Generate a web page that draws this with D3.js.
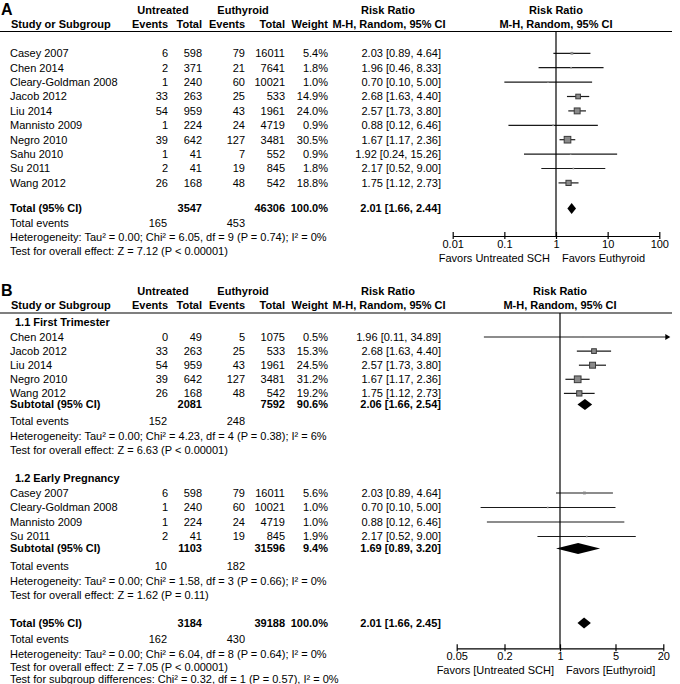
<!DOCTYPE html>
<html>
<head>
<meta charset="utf-8">
<script src="https://cdn.jsdelivr.net/npm/d3@7"></script>
<style>
  html, body { margin: 0; padding: 0; background: #fff; }
  svg { display: block; }
  text { font-family: "Liberation Sans", Arial, sans-serif; font-size: 11px; fill: #000; }
  .b { font-weight: bold; }
</style>
</head>
<body>
<div id="chart"></div>
<script>
// ---------- Panel A data ----------
const studiesA = ["Casey 2007", "Chen 2014", "Cleary-Goldman 2008", "Jacob 2012", "Liu 2014",
  "Mannisto 2009", "Negro 2010", "Sahu 2010", "Su 2011", "Wang 2012"];
const evUntreatedA = [6, 2, 1, 33, 54, 1, 39, 1, 2, 26];
const totUntreatedA = [598, 371, 240, 263, 959, 224, 642, 41, 41, 168];
const evEuthyroidA = [79, 21, 60, 25, 43, 24, 127, 7, 19, 48];
const totEuthyroidA = [16011, 7641, 10021, 533, 1961, 4719, 3481, 552, 845, 542];
const weightA = [5.4, 1.8, 1.0, 14.9, 24.0, 0.9, 30.5, 0.9, 1.8, 18.8];
const rrA = [2.03, 1.96, 0.70, 2.68, 2.57, 0.88, 1.67, 1.92, 2.17, 1.75];
const loA = [0.89, 0.46, 0.10, 1.63, 1.73, 0.12, 1.17, 0.24, 0.52, 1.12];
const hiA = [4.64, 8.33, 5.00, 4.40, 3.80, 6.46, 2.36, 15.26, 9.00, 2.73];
const totalA = { totU: 3547, totE: 46306, weight: 100.0, rr: 2.01, lo: 1.66, hi: 2.44, evU: 165, evE: 453 };
const hetA = "Heterogeneity: Tau² = 0.00; Chi² = 6.05, df = 9 (P = 0.74); I² = 0%";
const testA = "Test for overall effect: Z = 7.12 (P < 0.00001)";
const ticksA = [0.01, 0.1, 1, 10, 100];
const tickLabelsA = ["0.01", "0.1", "1", "10", "100"];
const favorsA = ["Favors Untreated SCH", "Favors Euthyroid"];

// ---------- Panel B data ----------
const group1Name = "1.1 First Trimester";
const studiesB1 = ["Chen 2014", "Jacob 2012", "Liu 2014", "Negro 2010", "Wang 2012"];
const evUntreatedB1 = [0, 33, 54, 39, 26];
const totUntreatedB1 = [49, 263, 959, 642, 168];
const evEuthyroidB1 = [5, 25, 43, 127, 48];
const totEuthyroidB1 = [1075, 533, 1961, 3481, 542];
const weightB1 = [0.5, 15.3, 24.5, 31.2, 19.2];
const rrB1 = [1.96, 2.68, 2.57, 1.67, 1.75];
const loB1 = [0.11, 1.63, 1.73, 1.17, 1.12];
const hiB1 = [34.89, 4.40, 3.80, 2.36, 2.73];
const subB1 = { totU: 2081, totE: 7592, weight: 90.6, rr: 2.06, lo: 1.66, hi: 2.54, evU: 152, evE: 248 };
const hetB1 = "Heterogeneity: Tau² = 0.00; Chi² = 4.23, df = 4 (P = 0.38); I² = 6%";
const testB1 = "Test for overall effect: Z = 6.63 (P < 0.00001)";

const group2Name = "1.2 Early Pregnancy";
const studiesB2 = ["Casey 2007", "Cleary-Goldman 2008", "Mannisto 2009", "Su 2011"];
const evUntreatedB2 = [6, 1, 1, 2];
const totUntreatedB2 = [598, 240, 224, 41];
const evEuthyroidB2 = [79, 60, 24, 19];
const totEuthyroidB2 = [16011, 10021, 4719, 845];
const weightB2 = [5.6, 1.0, 1.0, 1.9];
const rrB2 = [2.03, 0.70, 0.88, 2.17];
const loB2 = [0.89, 0.10, 0.12, 0.52];
const hiB2 = [4.64, 5.00, 6.46, 9.00];
const subB2 = { totU: 1103, totE: 31596, weight: 9.4, rr: 1.69, lo: 0.89, hi: 3.20, evU: 10, evE: 182 };
const hetB2 = "Heterogeneity: Tau² = 0.00; Chi² = 1.58, df = 3 (P = 0.66); I² = 0%";
const testB2 = "Test for overall effect: Z = 1.62 (P = 0.11)";

const totalB = { totU: 3184, totE: 39188, weight: 100.0, rr: 2.01, lo: 1.66, hi: 2.45, evU: 162, evE: 430 };
const hetB = "Heterogeneity: Tau² = 0.00; Chi² = 6.04, df = 8 (P = 0.64); I² = 0%";
const testB = "Test for overall effect: Z = 7.05 (P < 0.00001)";
const subgroupB = "Test for subgroup differences: Chi² = 0.32, df = 1 (P = 0.57), I² = 0%";
const ticksB = [0.05, 0.2, 1, 5, 20];
const tickLabelsB = ["0.05", "0.2", "1", "5", "20"];
const favorsB = ["Favors [Untreated SCH]", "Favors [Euthyroid]"];

// ---------- Layout ----------
const W = 680, H = 684;
const svg = d3.select("#chart").append("svg").attr("width", W).attr("height", H);

const col = { name: 10, evU: 168, totU: 202, evE: 245, totE: 285, weight: 328, ci: 441 };
const fmt = d3.format(".2f");
const ciText = (r, l, h) => `${fmt(r)} [${fmt(l)}, ${fmt(h)}]`;
const wText = w => d3.format(".1f")(w) + "%";

function txt(x, y, s, anchor, bold, size) {
  const t = svg.append("text").attr("x", x).attr("y", y).attr("dy", "0.35em")
    .attr("text-anchor", anchor || "start").text(s);
  if (bold) t.attr("class", "b");
  if (size) t.style("font-size", size + "px");
  return t;
}

function header(yTop, label, xScale) {
  const y1 = yTop, y2 = yTop + 14, yl = yTop + 21.5;
  txt(1, y1 - 1, label, "start", true, 16);
  txt(163, y1, "Untreated", "middle", true);
  txt(243, y1, "Euthyroid", "middle", true);
  txt(11, y2, "Study or Subgroup", "start", true);
  txt(col.evU, y2, "Events", "end", true);
  txt(col.totU, y2, "Total", "end", true);
  txt(col.evE, y2, "Events", "end", true);
  txt(col.totE, y2, "Total", "end", true);
  txt(col.weight, y2, "Weight", "end", true);
  txt(388, y1, "Risk Ratio", "middle", true);
  txt(389, y2, "M-H, Random, 95% CI", "middle", true);
  txt(xScale(1), y1, "Risk Ratio", "middle", true);
  txt(xScale(1), y2, "M-H, Random, 95% CI", "middle", true);
  svg.append("line").attr("x1", 0).attr("x2", 672).attr("y1", yl).attr("y2", yl)
    .attr("stroke", "#000").attr("stroke-width", 1.2);
  return yl;
}

function studyRow(xScale, y, name, evU, totU, evE, totE, w, r, l, h) {
  txt(col.name, y, name);
  txt(col.evU, y, evU, "end");
  txt(col.totU, y, totU, "end");
  txt(col.evE, y, evE, "end");
  txt(col.totE, y, totE, "end");
  txt(col.weight, y, wText(w), "end");
  txt(col.ci, y, ciText(r, l, h), "end");
  const [r0, r1] = xScale.range();
  const xl = Math.max(r0, xScale(l));
  const clippedHi = xScale(h) > r1;
  const xh = clippedHi ? r1 + 7 : xScale(h);
  svg.append("line").attr("x1", xl).attr("x2", clippedHi ? xh - 4 : xh)
    .attr("y1", y).attr("y2", y).attr("stroke", "#1a1a1a").attr("stroke-width", 1.2);
  if (clippedHi) {
    svg.append("path").attr("d", `M${xh},${y} L${xh - 5},${y - 3} L${xh - 5},${y + 3} Z`).attr("fill", "#000");
  }
  const s = Math.max(1.6, 1.2 * Math.sqrt(w));
  svg.append("rect").attr("x", xScale(r) - s / 2).attr("y", y - s / 2)
    .attr("width", s).attr("height", s)
    .attr("fill", "#8a8a8a").attr("stroke", s > 3 ? "#3a3a3a" : "none").attr("stroke-width", 1);
}

function diamond(xScale, y, r, l, h) {
  const hh = 5.5;
  svg.append("path")
    .attr("d", `M${xScale(l)},${y} L${xScale(r)},${y - hh} L${xScale(h)},${y} L${xScale(r)},${y + hh} Z`)
    .attr("fill", "#000");
}

function totalRow(xScale, y, label, t) {
  txt(col.name, y, label, "start", true);
  txt(col.totU, y, t.totU, "end", true);
  txt(col.totE, y, t.totE, "end", true);
  txt(col.weight, y, wText(t.weight), "end", true);
  txt(col.ci, y, ciText(t.rr, t.lo, t.hi), "end", true);
  diamond(xScale, y, t.rr, t.lo, t.hi);
}

function eventsRow(y, t) {
  txt(col.name, y, "Total events");
  txt(col.evU - 1, y, t.evU, "end");
  txt(col.evE, y, t.evE, "end");
}

function axis(xScale, yAxis, yTop, ticks, labels, favors) {
  const x1 = xScale(1);
  svg.append("line").attr("x1", x1).attr("x2", x1).attr("y1", yTop).attr("y2", yAxis)
    .attr("stroke", "#000").attr("stroke-width", 1.2);
  const g = svg.append("g").attr("transform", `translate(0,${yAxis})`);
  const ax = d3.axisBottom(xScale).tickValues(ticks).tickFormat((d, i) => labels[i])
    .tickSize(3).tickSizeOuter(0).tickPadding(1);
  g.call(ax);
  g.select(".domain").attr("stroke", "#000").attr("stroke-width", 1.2);
  g.selectAll(".tick line").attr("y1", -4).attr("y2", 3).attr("stroke", "#000").attr("stroke-width", 1.2);
  g.selectAll(".tick text").style("font-family", '"Liberation Sans", Arial, sans-serif')
    .style("font-size", "11px").attr("fill", "#000").attr("dy", "0.71em");
  txt(x1 - 6, yAxis + 22, favors[0], "end");
  txt(x1 + 6, yAxis + 22, favors[1], "start");
}

// ---------- Panel A ----------
const xA = d3.scaleLog().domain([ticksA[0], ticksA[ticksA.length - 1]]).range([452.7, 659.3]);
const lineA = header(10, "A", xA);
const rowA = d3.scaleLinear().domain([0, 1]).range([53.3, 67.7]);
studiesA.forEach((n, i) => studyRow(xA, rowA(i), n, evUntreatedA[i], totUntreatedA[i],
  evEuthyroidA[i], totEuthyroidA[i], weightA[i], rrA[i], loA[i], hiA[i]));
totalRow(xA, 208.5, "Total (95% CI)", totalA);
eventsRow(223, totalA);
txt(col.name, 237.5, hetA);
txt(col.name, 251.5, testA);
axis(xA, 236, lineA, ticksA, tickLabelsA, favorsA);

// ---------- Panel B ----------
const xB = d3.scaleLog().domain([ticksB[0], ticksB[ticksB.length - 1]]).range([456.7, 663.3]);
const lineB = header(291.5, "B", xB);
txt(15, 322, group1Name, "start", true);
const rowB1 = d3.scaleLinear().domain([0, 1]).range([337, 351.1]);
studiesB1.forEach((n, i) => studyRow(xB, rowB1(i), n, evUntreatedB1[i], totUntreatedB1[i],
  evEuthyroidB1[i], totEuthyroidB1[i], weightB1[i], rrB1[i], loB1[i], hiB1[i]));
totalRow(xB, 404.5, "Subtotal (95% CI)", subB1);
eventsRow(421.5, subB1);
txt(col.name, 436, hetB1);
txt(col.name, 450, testB1);

txt(15, 478, group2Name, "start", true);
const rowB2 = d3.scaleLinear().domain([0, 1]).range([493, 507.5]);
studiesB2.forEach((n, i) => studyRow(xB, rowB2(i), n, evUntreatedB2[i], totUntreatedB2[i],
  evEuthyroidB2[i], totEuthyroidB2[i], weightB2[i], rrB2[i], loB2[i], hiB2[i]));
totalRow(xB, 548.5, "Subtotal (95% CI)", subB2);
eventsRow(566.5, subB2);
txt(col.name, 581, hetB2);
txt(col.name, 595, testB2);

totalRow(xB, 623, "Total (95% CI)", totalB);
eventsRow(639.5, totalB);
txt(col.name, 654, hetB);
txt(col.name, 667.5, testB);
txt(col.name, 679.5, subgroupB);
axis(xB, 648.3, lineB, ticksB, tickLabelsB, favorsB);
</script>
</body>
</html>
